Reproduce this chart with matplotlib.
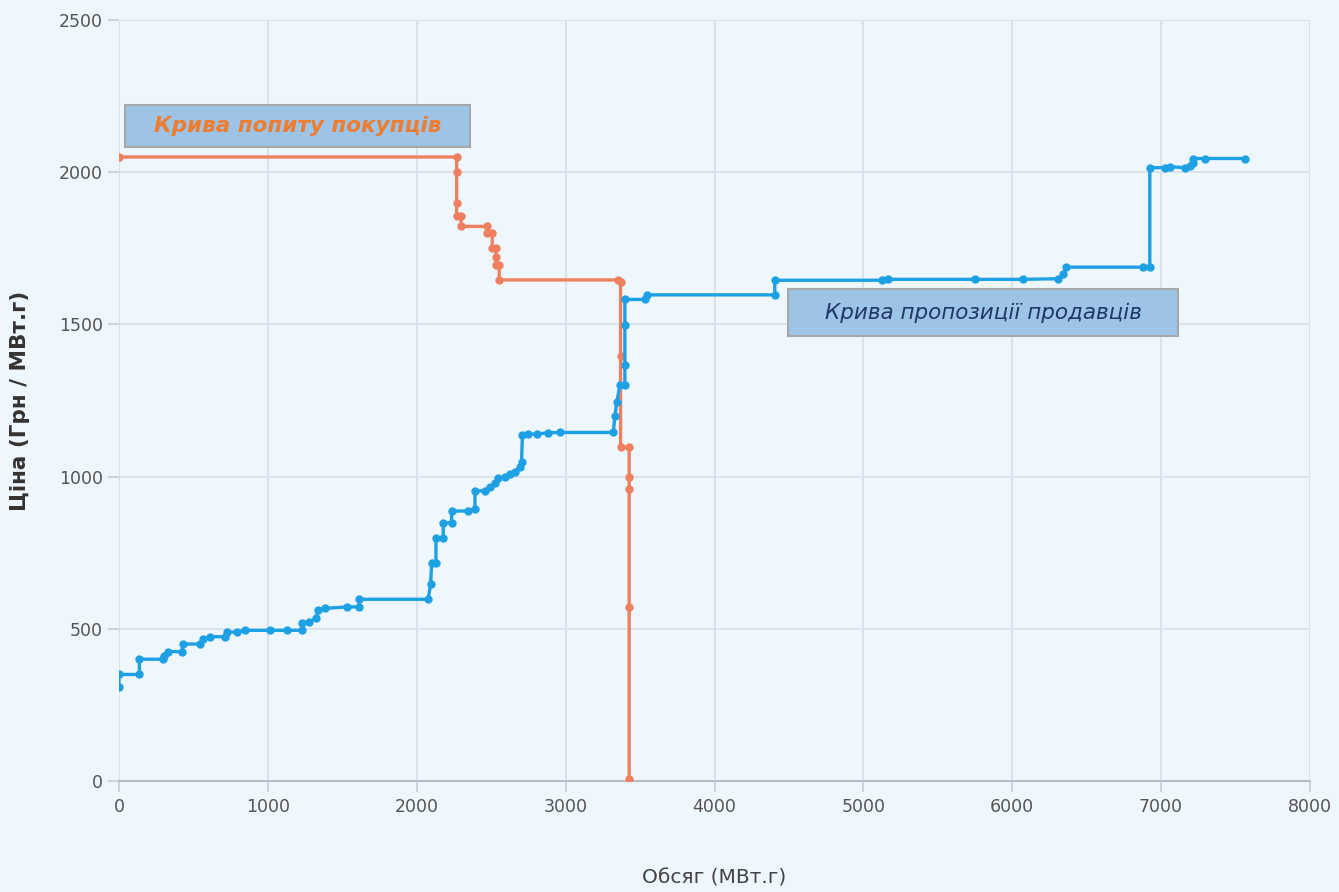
import matplotlib
matplotlib.use("Agg")
import matplotlib.pyplot as plt
from matplotlib.patches import Rectangle

# --- Daten ---
supply_x = [0, 0, 137, 137, 293, 300, 327, 421, 432, 544, 562, 611, 712, 723, 790, 846,
            1014, 1126, 1227, 1227, 1278, 1323, 1339, 1383, 1529, 1614, 1614, 2077, 2093,
            2100, 2129, 2129, 2178, 2178, 2234, 2234, 2346, 2391, 2391, 2458, 2490, 2525,
            2547, 2592, 2626, 2660, 2693, 2704, 2710, 2748, 2805, 2883, 2962, 3320, 3331,
            3344, 3365, 3398, 3398, 3398, 3398, 3530, 3544, 4405, 4405, 5122, 5167, 5749,
            6073, 6308, 6340, 6364, 6879, 6924, 6924, 7025, 7058, 7159, 7192, 7215, 7215,
            7294, 7562]
supply_y = [310, 350, 350, 400, 400, 410, 425, 425, 450, 450, 465, 474, 474, 488, 490, 495,
            495, 495, 495, 518, 523, 534, 562, 567, 572, 572, 597, 597, 647,
            715, 715, 797, 797, 848, 848, 887, 887, 895, 953, 953, 965, 979,
            995, 998, 1010, 1015, 1032, 1049, 1137, 1140, 1140, 1144, 1145, 1145, 1199,
            1246, 1301, 1301, 1367, 1498, 1582, 1582, 1597, 1597, 1645, 1645, 1648, 1648,
            1648, 1650, 1665, 1688, 1688, 1688, 2015, 2015, 2018, 2015, 2020, 2030, 2045,
            2045, 2045]

demand_x = [0, 2268, 2268, 2268, 2268, 2297, 2297, 2473, 2473, 2507, 2507, 2532, 2532, 2532,
            2554, 2554, 3353, 3369, 3369, 3369, 3427, 3427, 3427, 3427, 3427]
demand_y = [2050, 2050, 2000, 1900, 1855, 1855, 1822, 1822, 1799, 1799, 1750, 1750, 1722, 1695,
            1695, 1646, 1646, 1640, 1396, 1096, 1096, 1000, 960, 570, 5]

x_ticks = [0, 1000, 2000, 3000, 4000, 5000, 6000, 7000, 8000]
y_ticks = [0, 500, 1000, 1500, 2000, 2500]

BG = '#EEF6FE'
BLUE = '#1EA1E4'
ORANGE = '#EE8060'

fig = plt.figure(figsize=(13.39, 8.92), dpi=100, facecolor=BG)
ax = fig.add_axes([119 / 1339, 111 / 892, 1191 / 1339, 761 / 892])
ax.set_facecolor(BG)

ax.plot(supply_x, supply_y, color=BLUE, lw=2.4, marker='o', ms=5, zorder=4)
ax.plot(demand_x, demand_y, color=ORANGE, lw=2.4, marker='o', ms=5, zorder=3)

ax.set_xlim(0, 8000)
ax.set_ylim(0, 2500)
ax.set_xticks(x_ticks)
ax.set_yticks(y_ticks)
ax.grid(True, color='#D9DEE8', lw=1.2, zorder=0)
ax.set_axisbelow(True)
for s in ['top', 'right', 'left']:
    ax.spines[s].set_visible(False)
ax.spines['bottom'].set_color('#B8BEC8')
ax.spines['bottom'].set_linewidth(1.5)
ax.tick_params(axis='both', colors='#C8CDD6', labelcolor='#555555', labelsize=12.5, length=8, width=1.2)
ax.tick_params(axis='x', pad=4)

ax.set_xlabel('Обсяг (МВт.г)', fontsize=14.5, color='#444444')
ax.set_ylabel('Ціна (Грн / МВт.г)', fontsize=15.5, color='#333333', fontweight='bold')
ax.xaxis.set_label_coords(0.5, -(868 - 781) / 761)
ax.yaxis.set_label_coords(-(119 - 30) / 1191, 0.5)

# Beschriftungen der Kurven
def label_box(x0, y0, x1, y1, text, color, weight):
    w, h = 1339, 892
    fig.patches.append(Rectangle((x0 / w, 1 - y1 / h), (x1 - x0) / w, (y1 - y0) / h,
                                 transform=fig.transFigure, facecolor='#9DC3E6',
                                 edgecolor='#A8A8A8', lw=1.5, zorder=5))
    fig.text((x0 + x1) / 2 / w, 1 - (y0 + y1) / 2 / h, text, ha='center', va='center',
             fontsize=15.5, style='italic', fontweight=weight, color=color, zorder=6)

label_box(125, 105, 470, 147, 'Крива попиту покупців', '#ED7D31', 'bold')
label_box(788, 289, 1178, 336, 'Крива пропозиції продавців', '#1F3864', 'normal')

fig.savefig('out.png', dpi=100, facecolor=BG)
